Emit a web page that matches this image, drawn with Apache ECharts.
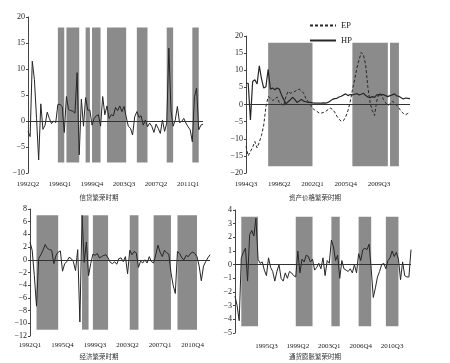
<!DOCTYPE html>
<html><head><meta charset="utf-8">
<script src="https://cdn.jsdelivr.net/npm/echarts@6/dist/echarts.min.js"></script>
<style>html,body{margin:0;padding:0;background:#fff}#c{width:450px;height:363px}</style>
</head><body><div id="c"></div>
<script>
// ---------- data ----------
const creditStart = [1992, 2], creditCount = 83;
const creditValues = [-2,-3,11.5,8,0.5,-7.5,3.3,-1.6,-0.8,1.7,0.5,-0.5,0,-0.3,3.2,3.2,2.8,-2.2,4.7,2.2,2,1.9,1.5,9.3,-6.5,4.2,-1,4.5,2.1,2.1,-0.8,0.5,1,1.2,-1,4.7,1.2,2.9,0.5,1.2,1,2.6,2,2.9,1.8,2.8,0.8,-1,-1.4,-2.7,0.8,1.8,0.7,1,-0.8,0.2,-1.1,-0.4,-1,-2.2,-0.6,-1.4,-2.4,0.2,-2,-0.4,14,2.1,-1,0.2,2.8,-0.3,-0.1,0.5,-0.4,-1.1,-1.7,-4,4.7,6.3,-1.7,-0.8,-0.6];
const creditBands = [['1995Q4','1996Q3'],['1996Q4','1998Q2'],['1999Q1','1999Q3'],['1999Q4','2000Q4'],['2001Q3','2003Q4'],['2005Q1','2006Q2'],['2008Q3','2009Q2'],['2011Q3','2012Q2']];

const assetStart = [1994, 3], assetCount = 75;
const assetEP = [-12.2,-15,-13.7,-12.5,-10.8,-12.7,-11,-9,-6,-0.6,2.3,1.8,1.2,1.5,2.2,0.6,0.2,-0.4,2.3,3.8,3.3,3.5,3.8,4.2,4.5,4,3.3,1.8,0.9,0,-1.1,-1.6,-2,-2.5,-2.5,-2.3,-2,-1.5,-1,-1.4,-2.2,-3.4,-4.3,-4.9,-4.7,-3.6,-1.8,0.7,4.2,7.2,10.5,13,15.2,14.5,11.5,5,0.5,-1.8,-3.2,1,3.3,3,1.5,0.5,-0.3,0.2,0.9,0.5,-0.3,-1,-2,-2.6,-3,-2.6,-2.3];
const assetHP = [6.2,6.2,-4.5,6.7,7.2,6,11.3,7.5,4.8,5.2,10.3,4.5,4.8,4.3,4.8,4.5,2.8,1.5,0.2,0.8,1.4,2.1,1.5,0.6,1,1.5,1,0.8,0.6,0.6,0.5,0.4,0.4,0.4,0.4,0.5,0.4,0.6,1,1.5,1.7,1.8,2.2,2.4,2.8,3.1,2.6,2.9,2.8,3,3.2,2.8,3,3.3,2.6,2.2,2,2.3,2.1,2.8,2.9,2.8,2.9,2.6,2.3,2.6,2.8,3.1,2.5,2.4,2,1.6,1.9,1.8,1.7];
const assetBands = [['1997Q1','2002Q1'],['2006Q3','2010Q3'],['2010Q4','2011Q4']];

const econStart = [1992, 1], econCount = 84;
const econValues = [2.8,1.5,-2.5,-7.3,0.2,0.8,1.5,2.4,1.8,1.6,1.5,-0.6,0.7,1.2,1.4,-1.8,-0.6,-0.3,0.4,0.2,-0.3,-1.7,1.6,-9.8,7,-0.4,2.8,-2.5,-0.6,0.9,0.7,1,0.3,0.5,0.7,0.8,0.3,-0.4,-0.6,-0.3,-0.7,0.2,0.3,-0.3,0.5,-2.2,1.5,0.8,1.3,1.1,-1.2,-0.2,-0.5,0,-0.5,0.5,-0.3,-0.5,0.8,2.3,1.2,0.5,1.5,1.1,0.9,-2,-4,-5.3,1.3,1,0.3,0,0.7,0.5,1,1.2,1,0.5,-1,-3.3,-1,-0.3,0.3,0.8];
const econBands = [['1992Q4','1995Q2'],['1998Q1','1998Q4'],['1999Q2','2001Q1'],['2003Q3','2004Q3'],['2006Q2','2008Q2'],['2009Q1','2011Q2']];

const inflStart = [1991, 4], inflCount = 85;
const inflValues = [-2.3,-3,-4.1,0.5,0.9,1.2,-1.2,2.2,2.5,2.1,3.4,0.4,0.1,0.2,-0.4,-0.8,0.5,-0.2,-0.5,-1.2,-0.5,0,-1,-1.2,-0.6,-1,-0.5,-0.6,-0.8,-0.9,1,-0.6,0.4,0.2,0.7,0.6,0.2,0.4,-0.4,-0.2,0.1,-0.3,0.5,-0.8,0.3,0.1,1.8,1.3,0.3,0.7,-1,0.3,-0.3,-0.4,-0.5,-0.3,-0.6,0,-0.6,0.8,0.3,1.1,1.2,1.1,1.5,-0.3,-2.4,-1.7,-0.9,-0.5,0,0.1,-0.3,0.3,0.5,1,0.6,0.9,0.4,-1.1,0.2,-0.8,-0.9,-0.9,1.1];
const inflBands = [['1992Q3','1994Q3'],['1999Q1','2001Q1'],['2003Q2','2004Q2'],['2006Q3','2008Q1'],['2009Q4','2011Q2']];

const titles = ['信贷繁荣时期','资产价格繁荣时期','经济繁荣时期','通货膨胀繁荣时期'];
const legendNames = ['EP','HP'];

// ---------- helpers ----------
function quarters(start, n){
  const out=[]; let y=start[0], q=start[1];
  for(let i=0;i<n;i++){ out.push(y+'Q'+q); q++; if(q>4){q=1;y++;} }
  return out;
}
const NUM = 'Liberation Serif, Times New Roman, serif';
const CJK = 'Noto Sans CJK SC, sans-serif';
const LINE = '#262626';
const BAND = '#8b8b8b';
const fmt = v => v < 0 ? '\u2212' + (-v) : String(v);

const panels = [
  {cats: quarters(creditStart, creditCount), grid:{left:28, top:17, width:175, height:156}, y:[-10,20,5], band:[-8,18], bands: creditBands, labelMargin:8, first:true},
  {cats: quarters(assetStart, assetCount), grid:{left:246, top:36, width:164, height:137}, y:[-20,20,5], band:[-18,18], bands: assetBands, labelMargin:8, first:true},
  {cats: quarters(econStart, econCount), grid:{left:30, top:209, width:180, height:127}, y:[-12,8,2], band:[-11,7], bands: econBands, labelMargin:6, first:true},
  {cats: quarters(inflStart, inflCount), grid:{left:235, top:210, width:176, height:123}, y:[-5,4,1], band:[-4.5,3.5], bands: inflBands, labelMargin:10, first:false}
];

const grid=[], xAxis=[], yAxis=[], series=[];
panels.forEach((p, k) => {
  grid.push(p.grid);
  xAxis.push({type:'category', gridIndex:k, data:p.cats, boundaryGap:false,
    axisLine:{show:false}, axisTick:{show:false}, splitLine:{show:false},
    axisLabel:{interval:(i)=> i%15===0 && (p.first || i>0),
      formatter:(v, i)=> (i%15===0 && (p.first || i>0)) ? v : '',
      margin:p.labelMargin, fontFamily:NUM, fontSize:7, color:'#222'}});
  yAxis.push({type:'value', gridIndex:k, min:p.y[0], max:p.y[1], interval:p.y[2],
    axisLine:{show:true, lineStyle:{color:'#444', width:1}},
    axisTick:{show:true, length:2, lineStyle:{color:'#444'}},
    splitLine:{show:false},
    axisLabel:{formatter:fmt, margin:3, fontFamily:NUM, fontSize:8, color:'#222'}});
  series.push({type:'line', xAxisIndex:k, yAxisIndex:k, z:1, silent:true, symbol:'none',
    data: p.cats.map(()=>null),
    markArea:{silent:true, itemStyle:{color:BAND, opacity:1},
      data: p.bands.map(b => [{xAxis:b[0], yAxis:p.band[0]}, {xAxis:b[1], yAxis:p.band[1]}])}});
});

function zeroLine(){ return {silent:true, symbol:['none','none'], label:{show:false}, lineStyle:{color:'#333', width:1, type:'solid'}, data:[{yAxis:0}]}; }

series.push({type:'line', xAxisIndex:0, yAxisIndex:0, z:3, symbol:'none', data:creditValues, lineStyle:{color:LINE, width:1}, markLine:zeroLine()});
series.push({name:legendNames[0], type:'line', xAxisIndex:1, yAxisIndex:1, z:3, symbol:'none', data:assetEP, itemStyle:{color:LINE}, lineStyle:{color:LINE, width:1, type:[3,2]}});
series.push({name:legendNames[1], type:'line', xAxisIndex:1, yAxisIndex:1, z:3, symbol:'none', data:assetHP, itemStyle:{color:LINE}, lineStyle:{color:LINE, width:1.2}, markLine:zeroLine()});
series.push({type:'line', xAxisIndex:2, yAxisIndex:2, z:3, symbol:'none', data:econValues, lineStyle:{color:LINE, width:1}, markLine:zeroLine()});
series.push({type:'line', xAxisIndex:3, yAxisIndex:3, z:3, symbol:'none', data:inflValues, lineStyle:{color:LINE, width:1}, markLine:zeroLine()});

const titlePos = [[99,198],[315,198],[99,357],[315,357]];
const chart = echarts.init(document.getElementById('c'), null, {renderer:'canvas'});
chart.setOption({
  animation:false,
  backgroundColor:'#fff',
  grid, xAxis, yAxis, series,
  legend:{data:legendNames, orient:'vertical', left:304, top:16, itemWidth:26, itemHeight:10, itemGap:6,
    itemStyle:{opacity:0, borderWidth:0},
    textStyle:{fontFamily:NUM, fontSize:8.5, color:'#222'}},
  graphic: titles.map((t,i)=>({type:'text', x:titlePos[i][0], y:titlePos[i][1],
    style:{text:t, align:'center', verticalAlign:'middle', font:'6.5px '+CJK, fill:'#333'}}))
});
</script></body></html>
